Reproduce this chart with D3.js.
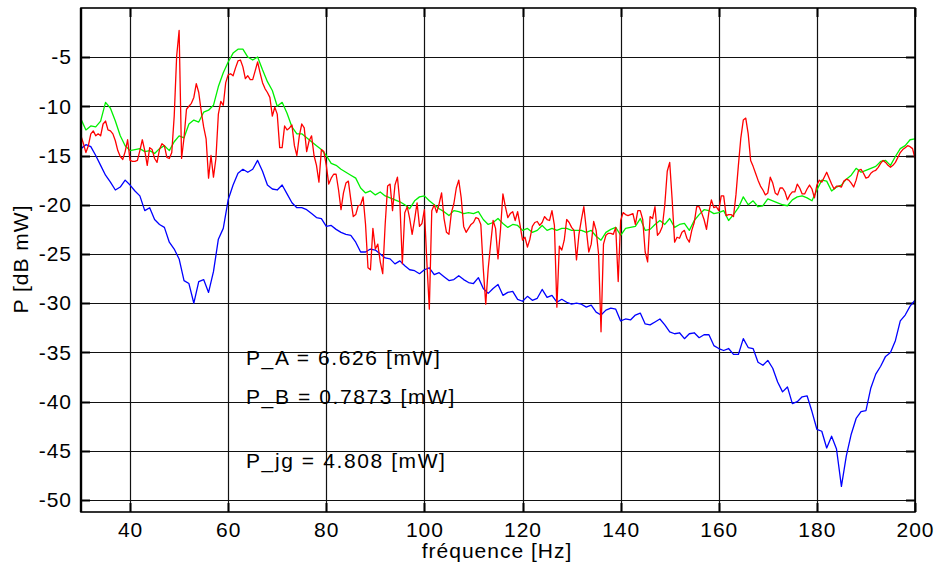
<!DOCTYPE html>
<html>
<head>
<meta charset="utf-8">
<script src="https://cdn.jsdelivr.net/npm/d3@7/dist/d3.min.js"></script>
<style>
  html, body { margin: 0; padding: 0; background: #fff; }
  svg { display: block; }
  text { font-family: "Liberation Sans", Arial, Helvetica, sans-serif; fill: #000; }
</style>
</head>
<body>
<svg id="chart" width="936" height="566"></svg>
<script>
// ---------------- data ----------------
const xTicks = [40, 60, 80, 100, 120, 140, 160, 180, 200];
const yTicks = [-5, -10, -15, -20, -25, -30, -35, -40, -45, -50];
const xLabel = "fréquence [Hz]";
const yLabel = "P [dB mW]";
const annotations = ["P_A = 6.626 [mW]", "P_B = 0.7873 [mW]", "P_jg = 4.808 [mW]"];

// frequency bins (Hz)
const freq1Hz = d3.range(30, 201, 1);      // green & blue
const freqHalfHz = d3.range(30, 200.25, 0.5); // red

const green = [
  -11.3,-12.4,-12.0,-12.1,-11.5,-9.6,-10.2,-11.5,-13.0,-14.0,
  -14.5,-14.4,-14.3,-14.6,-14.5,-14.8,-14.3,-14.0,-14.5,-13.6,
  -13.0,-13.2,-11.8,-11.4,-11.6,-10.6,-10.4,-9.9,-8.0,-6.6,
  -5.5,-4.6,-4.2,-4.2,-5.0,-5.3,-5.0,-6.3,-7.5,-8.4,
  -10.0,-9.6,-10.7,-12.1,-12.8,-12.8,-13.2,-13.6,-14.0,-14.4,
  -15.0,-15.8,-16.0,-16.4,-16.7,-17.0,-17.3,-18.3,-18.8,-18.6,
  -19.0,-18.7,-19.1,-19.3,-19.5,-19.7,-20.0,-20.4,-19.6,-19.2,
  -19.1,-19.6,-20.0,-20.4,-20.7,-21.1,-20.6,-20.7,-20.9,-20.8,
  -20.9,-20.7,-21.5,-22.0,-21.8,-21.4,-21.9,-22.3,-22.0,-22.1,
  -22.6,-22.4,-22.8,-22.6,-22.1,-22.6,-22.4,-22.6,-22.4,-22.4,
  -22.6,-22.6,-22.6,-22.8,-22.6,-23.2,-23.6,-22.8,-22.5,-22.3,
  -23.1,-22.4,-22.3,-22.2,-21.4,-22.6,-22.5,-22.0,-21.6,-22.0,
  -21.4,-22.3,-22.0,-21.9,-22.6,-21.6,-21.0,-20.5,-20.6,-20.9,
  -20.8,-20.6,-21.6,-21.0,-20.3,-19.2,-20.0,-19.6,-20.2,-20.1,
  -19.4,-19.6,-19.8,-20.0,-20.1,-19.5,-19.2,-19.1,-19.3,-19.6,
  -18.5,-17.5,-17.6,-18.6,-18.2,-18.0,-17.4,-17.0,-16.3,-16.7,
  -16.5,-16.3,-16.1,-15.6,-15.5,-16.0,-15.1,-14.3,-14.0,-13.4,
  -13.3
];

const blue = [
  -14.3,-13.9,-14.1,-15.0,-16.0,-17.0,-17.7,-18.5,-18.2,-17.5,
  -18.0,-18.6,-19.1,-20.6,-20.3,-21.5,-22.0,-22.3,-23.8,-24.5,
  -25.5,-27.7,-28.0,-30.0,-27.8,-27.6,-28.9,-26.8,-23.5,-22.4,
  -19.5,-18.0,-16.8,-16.4,-16.7,-16.4,-15.5,-16.6,-18.0,-18.4,
  -18.5,-18.0,-18.9,-19.8,-20.3,-20.3,-20.5,-20.9,-21.3,-21.4,
  -22.2,-22.1,-22.5,-22.8,-23.0,-23.1,-23.8,-24.8,-24.8,-24.5,
  -24.6,-25.0,-25.4,-25.5,-26.0,-25.7,-26.2,-26.6,-26.7,-27.0,
  -26.6,-26.4,-27.1,-26.9,-27.3,-27.7,-27.6,-27.2,-27.6,-27.9,
  -28.0,-27.4,-28.5,-29.0,-28.5,-28.1,-29.2,-28.9,-28.8,-29.6,
  -29.8,-29.3,-29.7,-29.5,-28.6,-29.4,-29.2,-29.9,-29.6,-29.9,
  -30.1,-30.0,-30.1,-30.4,-30.2,-30.9,-31.2,-30.7,-30.5,-30.6,
  -31.8,-31.6,-31.7,-31.2,-31.0,-32.1,-32.2,-31.9,-31.6,-32.2,
  -32.9,-33.1,-33.0,-33.6,-33.1,-33.0,-33.5,-33.2,-33.2,-34.3,
  -34.6,-34.8,-34.6,-35.2,-35.2,-33.6,-34.5,-34.6,-36.0,-36.3,
  -35.8,-36.6,-38.0,-39.0,-38.5,-40.2,-40.0,-39.5,-39.4,-41.0,
  -42.8,-43.0,-44.7,-43.5,-44.8,-48.6,-45.5,-43.3,-41.7,-41.0,
  -40.9,-38.6,-37.2,-36.4,-35.4,-35.0,-33.8,-31.8,-31.2,-30.3,
  -29.7
];

const red = [
  -13.0,-13.8,-14.7,-14.0,-12.8,-12.5,-13.0,-12.8,-13.0,-11.8,
  -11.5,-12.4,-12.5,-12.8,-13.5,-14.5,-15.1,-15.4,-14.6,-13.4,
  -15.5,-15.6,-15.6,-15.5,-14.5,-13.4,-14.5,-16.0,-14.2,-14.4,
  -15.3,-15.7,-14.4,-13.8,-14.0,-15.2,-15.3,-14.7,-11.0,-4.9,
  -2.3,-15.3,-13.2,-10.3,-10.0,-9.7,-9.1,-7.7,-8.6,-10.5,
  -12.1,-13.3,-17.3,-15.0,-17.2,-15.3,-10.8,-9.5,-9.9,-7.6,
  -6.8,-6.7,-6.9,-6.1,-5.4,-5.3,-6.0,-7.2,-6.9,-7.3,
  -7.3,-6.4,-5.5,-6.6,-7.6,-8.2,-8.6,-9.1,-11.0,-10.1,
  -10.8,-14.2,-14.2,-12.0,-12.4,-12.2,-11.9,-14.0,-15.0,-13.0,
  -11.8,-12.2,-14.6,-13.5,-13.0,-15.0,-16.0,-17.7,-14.4,-14.6,
  -16.0,-17.9,-17.3,-16.9,-16.9,-18.5,-20.5,-18.8,-17.8,-17.6,
  -19.5,-21.2,-21.0,-20.1,-20.0,-19.2,-22.0,-26.4,-26.6,-22.4,
  -24.5,-24.0,-25.8,-27.0,-22.0,-18.1,-17.9,-20.6,-18.0,-17.2,
  -19.8,-26.0,-20.8,-20.2,-21.4,-23.0,-21.5,-19.8,-22.2,-21.9,
  -20.5,-25.8,-30.6,-20.6,-20.0,-20.8,-19.9,-18.8,-21.4,-22.8,
  -23.0,-20.8,-19.9,-18.3,-17.5,-19.3,-22.2,-22.8,-22.4,-22.0,
  -21.8,-21.3,-21.4,-22.0,-26.5,-30.1,-26.5,-24.0,-21.6,-22.4,
  -25.5,-22.6,-18.9,-20.2,-21.3,-20.9,-20.7,-21.6,-20.7,-22.1,
  -23.6,-23.3,-24.3,-23.5,-22.2,-21.8,-21.7,-22.1,-21.8,-21.2,
  -21.5,-21.6,-20.6,-22.1,-30.4,-24.2,-24.6,-23.6,-21.5,-21.8,
  -22.3,-22.6,-25.6,-23.0,-21.5,-20.2,-22.5,-24.8,-24.0,-21.7,
  -22.6,-25.0,-32.9,-24.0,-23.1,-22.9,-22.9,-23.0,-22.3,-27.8,
  -21.6,-20.8,-21.0,-21.1,-21.0,-20.9,-22.0,-20.6,-20.6,-21.5,
  -24.8,-25.8,-21.2,-21.4,-20.2,-23.1,-22.8,-22.2,-20.0,-16.6,
  -15.7,-19.5,-23.8,-23.3,-23.4,-22.8,-22.6,-23.4,-23.8,-22.6,
  -21.8,-20.2,-20.2,-20.8,-21.5,-22.5,-20.7,-19.5,-20.3,-20.2,
  -20.6,-19.1,-19.1,-21.1,-21.0,-21.0,-21.2,-19.0,-16.0,-13.2,
  -11.4,-11.2,-12.8,-15.5,-16.1,-16.8,-17.5,-18.1,-18.5,-19.0,
  -18.8,-17.2,-17.8,-18.8,-19.0,-18.3,-18.3,-18.7,-19.5,-19.0,
  -18.7,-18.7,-17.9,-18.3,-18.9,-18.9,-18.4,-18.0,-18.4,-19.3,
  -18.0,-17.5,-17.7,-17.2,-16.7,-17.3,-17.9,-18.4,-18.1,-18.1,
  -18.2,-17.6,-17.4,-17.5,-17.8,-18.2,-17.5,-16.5,-16.4,-16.8,
  -17.3,-17.2,-16.8,-16.6,-16.5,-16.2,-15.8,-15.5,-15.7,-16.0,
  -16.2,-16.0,-15.7,-15.2,-14.7,-14.4,-14.2,-14.0,-14.1,-14.3,
  -15.3
];

// ---------------- layout ----------------
const svg = d3.select("#chart");
const L = 81, R = 915, T = 8, B = 512;
const FONT = 21;

const x = d3.scaleLinear().domain([30, 200]).range([L, R]);
const y = d3.scaleLinear().domain([-51.2, 0]).range([B, T - 0.2]);

// gridlines
const grid = svg.append("g");
grid.selectAll("line.h").data(yTicks).join("line")
  .attr("x1", L).attr("x2", R)
  .attr("y1", d => Math.round(y(d)) + 0.5).attr("y2", d => Math.round(y(d)) + 0.5)
  .attr("stroke", "#111").attr("stroke-width", 1.2);
grid.selectAll("line.v").data(xTicks).join("line")
  .attr("y1", T).attr("y2", B)
  .attr("x1", d => Math.round(x(d)) + 0.5).attr("x2", d => Math.round(x(d)) + 0.5)
  .attr("stroke", "#111").attr("stroke-width", 1.2);

// inward tick marks (both sides)
const tk = svg.append("g").attr("stroke", "#000").attr("stroke-width", 2);
yTicks.forEach(d => {
  const yy = Math.round(y(d)) + 0.5;
  tk.append("line").attr("x1", L).attr("x2", L + 9).attr("y1", yy).attr("y2", yy);
  tk.append("line").attr("x1", R - 9).attr("x2", R).attr("y1", yy).attr("y2", yy);
});
xTicks.forEach(d => {
  const xx = Math.round(x(d)) + 0.5;
  tk.append("line").attr("x1", xx).attr("x2", xx).attr("y1", B - 9).attr("y2", B);
  tk.append("line").attr("x1", xx).attr("x2", xx).attr("y1", T).attr("y2", T + 9);
});

// clip
svg.append("defs").append("clipPath").attr("id", "clip")
  .append("rect").attr("x", L).attr("y", T).attr("width", R - L).attr("height", B - T);

const plot = svg.append("g").attr("clip-path", "url(#clip)");
const line = d3.line().x(d => x(d[0])).y(d => y(d[1]));

const series = [
  { f: freq1Hz, v: blue, color: "#0000ff" },
  { f: freq1Hz, v: green, color: "#00f000" },
  { f: freqHalfHz, v: red, color: "#ff0000" }
];
series.forEach(s => {
  const pts = s.v.map((v, i) => [s.f[i], v]);
  plot.append("path").datum(pts)
    .attr("d", line)
    .attr("fill", "none")
    .attr("stroke", s.color)
    .attr("stroke-width", 1.3)
    .attr("stroke-linejoin", "round");
});

// frame
svg.append("rect").attr("x", L).attr("y", T).attr("width", R - L).attr("height", B - T)
  .attr("fill", "none").attr("stroke", "#000").attr("stroke-width", 1.6);
svg.append("line").attr("x1", L).attr("x2", L).attr("y1", T).attr("y2", B)
  .attr("stroke", "#000").attr("stroke-width", 2.4);

// axes labels via d3 axes
const yAxis = svg.append("g").attr("transform", `translate(${L},0)`)
  .call(d3.axisLeft(y).tickValues(yTicks).tickSize(0).tickPadding(9).tickFormat(d => d));
yAxis.select(".domain").remove();
yAxis.selectAll("text").attr("font-size", FONT).attr("letter-spacing", "1px")
  .style("font-family", '"Liberation Sans", Arial, sans-serif');

const xAxis = svg.append("g").attr("transform", `translate(0,${B})`)
  .call(d3.axisBottom(x).tickValues(xTicks).tickSize(0).tickPadding(10).tickFormat(d => d));
xAxis.select(".domain").remove();
xAxis.selectAll("text").attr("font-size", FONT).attr("letter-spacing", "1px")
  .style("font-family", '"Liberation Sans", Arial, sans-serif');

// titles
svg.append("text").attr("x", 497).attr("y", 558).attr("text-anchor", "middle")
  .attr("font-size", FONT).attr("letter-spacing", "1px").text(xLabel);
svg.append("text").attr("transform", "translate(28,259) rotate(-90)")
  .attr("text-anchor", "middle").attr("font-size", FONT).attr("letter-spacing", "1px").text(yLabel);

// annotations
const annY = [365, 404, 468];
annotations.forEach((t, i) => {
  svg.append("text").attr("x", 246).attr("y", annY[i])
    .attr("font-size", FONT).attr("letter-spacing", "1.6px").text(t);
});
</script>
</body>
</html>
